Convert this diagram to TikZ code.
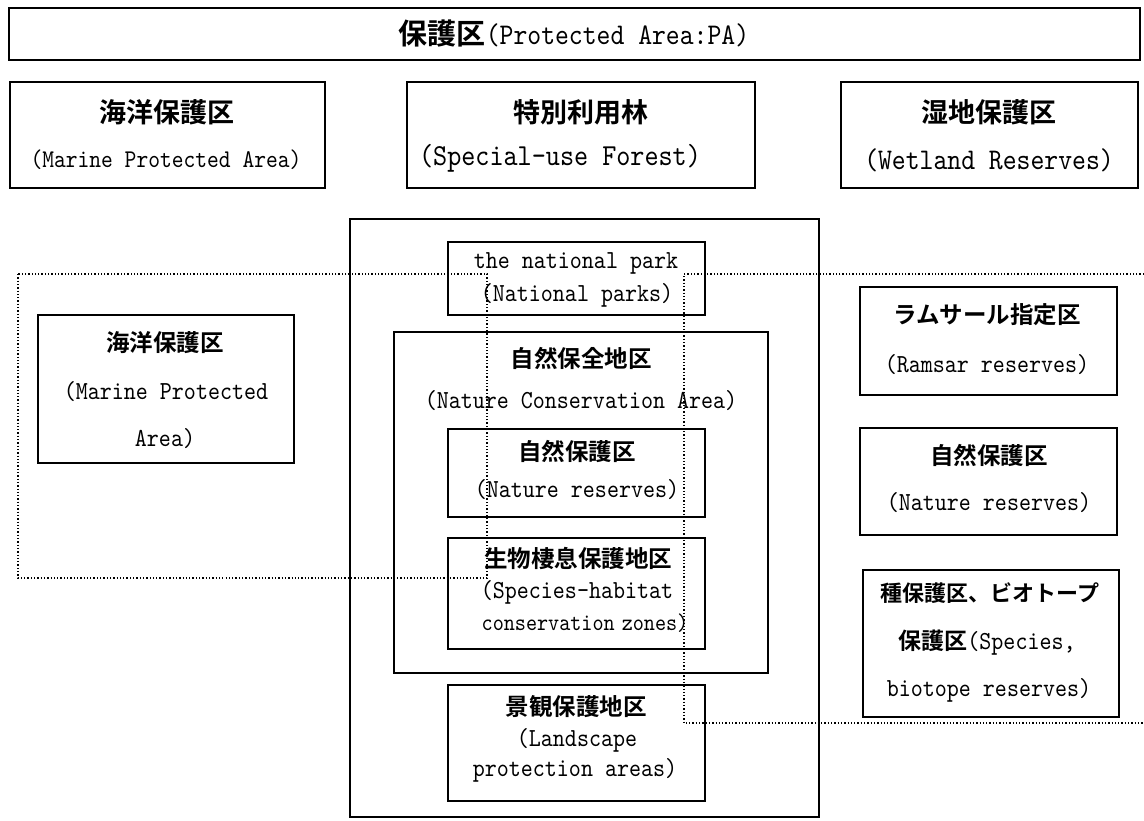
\documentclass[tikz,border=0pt]{standalone}
\usepackage{fontspec}
\newfontfamily\jpb{Noto Sans CJK JP Bold}
\newfontfamily\lat{lmmono10-regular.otf}[FakeStretch=0.88]
\newcommand{\fsz}[1]{\fontsize{#1}{#1}\selectfont}
\tikzset{
  box/.style={draw, line width=1.6pt, inner sep=0pt},
  txt/.style={inner sep=0pt},
  jt/.style={txt, font=\jpb\fsz{23.5}},
  lt/.style={txt, font=\lat\fsz{26}},
  dotline/.style={line width=1.3pt, dash pattern=on 1.3pt off 2pt},
}
\begin{document}
\begin{tikzpicture}[x=1pt,y=-1pt]
\useasboundingbox (0,0) rectangle (1144,820);
% top row
\node[box, minimum width=1131pt, minimum height=52pt] (pa) at (574.5,34) {};
\node[txt] (pa-t) at (574,34) {{\jpb\fsz{29}保護区}{\lat\fsz{30}(Protected Area:PA)}};
\node[box, minimum width=315pt, minimum height=106pt] (mpa) at (167.5,135) {};
\node[jt, font=\jpb\fsz{27}] (mpa-t) at (167,112) {海洋保護区};
\node[lt, font=\lat\fsz{25.5}] (mpa-s) at (166,160) {(Marine Protected Area)};
\node[box, minimum width=348pt, minimum height=106pt] (suf) at (581,135) {};
\node[jt, font=\jpb\fsz{27}] (suf-t) at (581,112) {特別利用林};
\node[lt, font=\lat\fsz{30.5}] (suf-s) at (560,158) {(Special-use Forest)};
\node[box, minimum width=297pt, minimum height=106pt] (wr) at (989.5,135) {};
\node[jt, font=\jpb\fsz{27}] (wr-t) at (989,112) {湿地保護区};
\node[lt, font=\lat\fsz{30}] (wr-s) at (989,160) {(Wetland Reserves)};
% dotted regions
\draw[dotline] (18,274) rectangle (487,578);
\draw[dotline] (1144,274) -| (684,723) -- (1144,723);
% special-use forest
\node[box, minimum width=469pt, minimum height=598pt] (sf) at (584.5,518) {};
\node[box, minimum width=257pt, minimum height=73pt] (np) at (576.5,278.5) {};
\node[lt] (np-t) at (576,263) {the national park};
\node[lt] (np-s) at (577,295) {(National parks)};
\node[box, minimum width=374pt, minimum height=341pt] (nca) at (581,502.5) {};
\node[jt] (nca-t) at (581,358) {自然保全地区};
\node[lt] (nca-s) at (581,401) {(Nature Conservation Area)};
\node[box, minimum width=257pt, minimum height=88pt] (nr) at (576.5,473) {};
\node[jt] (nr-t) at (577,451) {自然保護区};
\node[lt] (nr-s) at (577,490) {(Nature reserves)};
\node[box, minimum width=257pt, minimum height=111pt] (sh) at (576.5,593.5) {};
\node[jt] (sh-t) at (578,558) {生物棲息保護地区};
\node[lt] (sh-s) at (577,592) {(Species-habitat};
\node[lt, font=\lat\fsz{24}] (sh-u) at (585,623) {conservation\kern-4pt{} zones)};
\node[box, minimum width=257pt, minimum height=116pt] (ls) at (576.5,743) {};
\node[jt] (ls-t) at (576,707) {景観保護地区};
\node[lt] (ls-s) at (577,740) {(Landscape};
\node[lt] (ls-u) at (575,770) {protection areas)};
% marine
\node[box, minimum width=256pt, minimum height=148pt] (mpa2) at (166,389) {};
\node[jt] (mpa2-t) at (165,343) {海洋保護区};
\node[lt] (mpa2-s) at (166,392) {(Marine Protected};
\node[lt] (mpa2-u) at (165,439) {Area)};
% wetland
\node[box, minimum width=257pt, minimum height=108pt] (rr) at (988.5,341) {};
\node[jt] (rr-t) at (987,315) {ラムサール指定区};
\node[lt] (rr-s) at (987,365) {(Ramsar reserves)};
\node[box, minimum width=257pt, minimum height=107pt] (nr2) at (988.5,481.5) {};
\node[jt] (nr2-t) at (989,455) {自然保護区};
\node[lt] (nr2-s) at (989,503) {(Nature reserves)};
\node[box, minimum width=256pt, minimum height=147pt] (br) at (991,643.5) {};
\node[jt, font=\jpb\fsz{22}] (br-t) at (990,593) {種保護区、ビオトープ};
\node[txt] (br-s) at (987,643) {{\jpb\fsz{23}保護区}{\lat\fsz{26}(Species,}};
\node[lt] (br-u) at (989,690) {biotope reserves)};
\end{tikzpicture}
\end{document}
